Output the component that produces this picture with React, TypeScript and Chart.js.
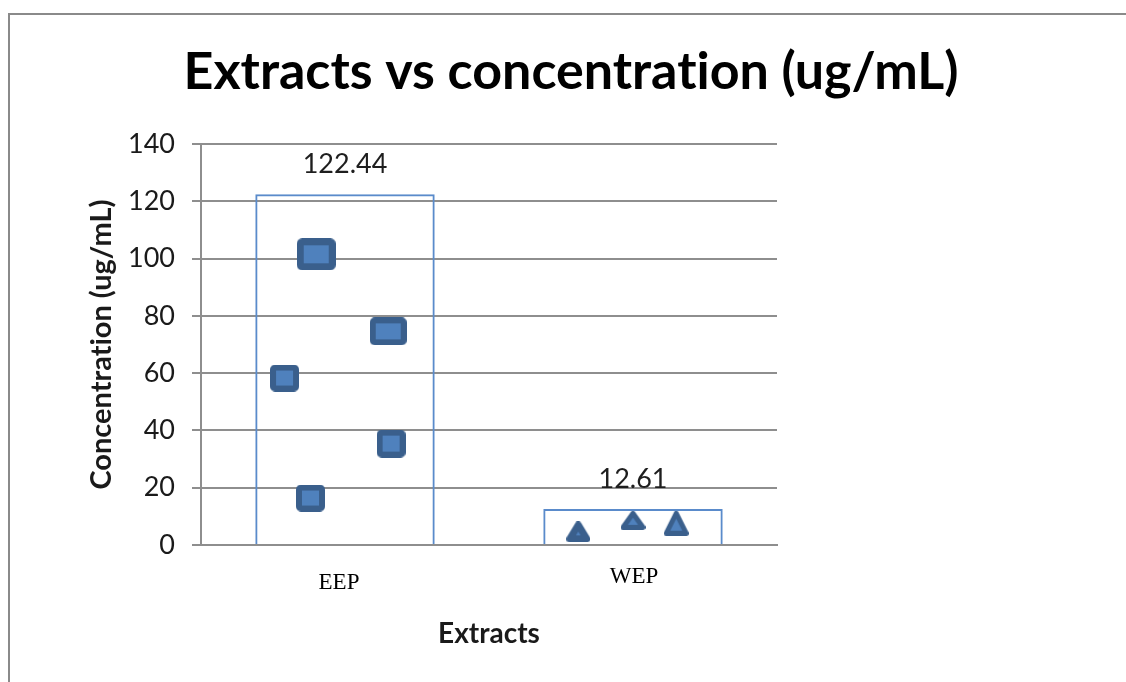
import React, { useEffect, useRef } from "react";
import { Chart, registerables } from "chart.js";

Chart.register(...registerables);

// Mean concentration per extract (bar height + value label)
const extracts = ["EEP", "WEP"];
const meanConcentration = [122.44, 12.61];

// Individual readings, spread across each category on a 0..2 linear axis
const eepPosition = [0.4, 0.65, 0.29, 0.66, 0.38];
const eepConcentration = [101.5, 74.6, 58.3, 35.4, 16.4];
const wepPosition = [1.31, 1.5, 1.65];
const wepConcentration = [4.6, 8.6, 7.6];

// Y axis range and ticks
const yMin = 0;
const yMax = 140;
const yStep = 20;

const chartTitle = "Extracts vs concentration (ug/mL)";
const xTitle = "Extracts";
const yTitle = "Concentration (ug/mL)";

// Small nudges for the category captions (dx, dy in px)
const categoryNudge: [number, number][] = [
  [-6, 3],
  [1, -3],
];

// Marker styling
const markerFill = "#4F81BD";
const markerEdge = "#3A5F8C";
const eepMarkerSize: [number, number, number][] = [
  [39, 32, 7],
  [37, 28, 6],
  [29, 27, 6],
  [29, 28, 6],
  [29, 27, 6],
];
const wepMarkerSize: [number, number, number][] = [
  [24, 21, 7],
  [25, 19, 5],
  [25, 25, 5],
];

function squareMarker(w: number, h: number, lw: number): HTMLCanvasElement {
  const c = document.createElement("canvas");
  c.width = w;
  c.height = h;
  const ctx = c.getContext("2d")!;
  ctx.beginPath();
  const x0 = lw / 2;
  const y0 = lw / 2;
  if ((ctx as any).roundRect) {
    (ctx as any).roundRect(x0, y0, w - lw, h - lw, 2);
  } else {
    ctx.rect(x0, y0, w - lw, h - lw);
  }
  ctx.fillStyle = markerFill;
  ctx.fill();
  ctx.lineJoin = "round";
  ctx.lineWidth = lw;
  ctx.strokeStyle = markerEdge;
  ctx.stroke();
  return c;
}

function triangleMarker(w: number, h: number, lw: number): HTMLCanvasElement {
  const c = document.createElement("canvas");
  c.width = w;
  c.height = h;
  const ctx = c.getContext("2d")!;
  const m = lw / 2;
  ctx.beginPath();
  ctx.moveTo(w / 2, m);
  ctx.lineTo(w - m, h - m);
  ctx.lineTo(m, h - m);
  ctx.closePath();
  ctx.fillStyle = markerFill;
  ctx.fill();
  ctx.lineJoin = "round";
  ctx.lineWidth = lw;
  ctx.strokeStyle = markerEdge;
  ctx.stroke();
  return c;
}

// Plain glyphs everywhere (no ligatures) and custom text decorations
const decorations = {
  id: "decorations",
  beforeDraw(chart: any) {
    const ctx = chart.ctx as any;
    ctx.textRendering = "optimizeSpeed";
  },
  afterDatasetsDraw(chart: any) {
    const ctx = chart.ctx as CanvasRenderingContext2D;
    ctx.save();
    (ctx as any).textRendering = "optimizeSpeed";
    const meta = chart.getDatasetMeta(0);
    ctx.fillStyle = "#1e1e1e";
    ctx.textAlign = "center";
    ctx.textBaseline = "alphabetic";
    ctx.font = "27px Lato";
    meta.data.forEach((bar: any, i: number) => {
      ctx.fillText(meanConcentration[i].toFixed(2), bar.x, bar.y - 21);
    });

    // category captions under the axis
    const xScale = chart.scales.x;
    ctx.fillStyle = "#000";
    ctx.font = '23px "Liberation Serif"';
    ctx.textBaseline = "middle";
    extracts.forEach((label, i) => {
      const [dx, dy] = categoryNudge[i];
      ctx.fillText(label, xScale.getPixelForValue(i) + dx, xScale.top + 35 + dy);
    });

    // heading
    ctx.textBaseline = "alphabetic";
    ctx.font = "bold 52px Lato";
    ctx.fillText(chartTitle, 571, 89);
    ctx.restore();
  },
};

export default function App() {
  const canvasRef = useRef<HTMLCanvasElement | null>(null);

  useEffect(() => {
    const canvas = canvasRef.current;
    if (!canvas) return;

    const eepPoints = eepPosition.map((x, i) => ({ x, y: eepConcentration[i] }));
    const wepPoints = wepPosition.map((x, i) => ({ x, y: wepConcentration[i] }));
    const eepMarkers = eepMarkerSize.map(([w, h, lw]) => squareMarker(w, h, lw));
    const wepMarkers = wepMarkerSize.map(([w, h, lw]) => triangleMarker(w, h, lw));

    const chart = new Chart(canvas, {
      type: "bar",
      data: {
        labels: extracts,
        datasets: [
          {
            type: "bar",
            data: meanConcentration,
            backgroundColor: "rgba(0,0,0,0)",
            borderColor: "#5A8BCB",
            borderWidth: 2,
            barPercentage: 0.623,
            categoryPercentage: 1,
            grouped: false,
            order: 2,
          } as any,
          {
            type: "scatter",
            xAxisID: "xs",
            data: eepPoints,
            pointStyle: eepMarkers as any,
            pointRadius: 12,
            order: 1,
          } as any,
          {
            type: "scatter",
            xAxisID: "xs",
            data: wepPoints,
            pointStyle: wepMarkers as any,
            pointRadius: 12,
            order: 1,
          } as any,
        ],
      },
      options: {
        responsive: false,
        animation: false,
        devicePixelRatio: 1,
        layout: { padding: { left: 0, top: 144, right: 349, bottom: 0 } },
        plugins: {
          legend: { display: false },
          tooltip: { enabled: false },
          title: { display: false },
        },
        scales: {
          x: {
            type: "category",
            offset: true,
            grid: { display: false },
            border: { display: true, color: "#8e8e8e", width: 2 },
            ticks: { display: false },
            title: {
              display: true,
              text: xTitle,
              font: { family: "Lato", weight: "bold", size: 28 },
              color: "#1a1a1a",
              padding: { top: 0, bottom: 31 },
            },
            afterFit: (s: any) => {
              s.height = 137;
            },
          },
          xs: {
            type: "linear",
            min: 0,
            max: 2,
            offset: false,
            display: false,
          },
          y: {
            min: yMin,
            max: yMax,
            ticks: {
              stepSize: yStep,
              font: { family: "Lato", size: 27 },
              color: "#1a1a1a",
              padding: 17,
            },
            grid: { color: "#8e8e8e", lineWidth: 2, tickLength: 9, drawTicks: true },
            border: { display: true, color: "#8e8e8e", width: 2 },
            title: {
              display: true,
              text: yTitle,
              font: { family: "Lato", weight: "bold", size: 29 },
              color: "#1a1a1a",
              padding: { top: 84, bottom: 0 },
            },
            afterFit: (s: any) => {
              s.width = 201;
            },
          },
        } as any,
      },
      plugins: [decorations],
    });

    return () => chart.destroy();
  }, []);

  return (
    <div
      style={{
        position: "fixed",
        left: 0,
        top: 0,
        width: 1126,
        height: 682,
        overflow: "hidden",
        background: "#fff",
      }}
    >
      <div
        style={{
          position: "absolute",
          left: 8,
          top: 13,
          width: 1300,
          height: 900,
          borderLeft: "2px solid #8a8a8a",
          borderTop: "2px solid #8a8a8a",
        }}
      />
      <canvas
        ref={canvasRef}
        width={1126}
        height={682}
        style={{ position: "absolute", left: 0, top: 0, width: 1126, height: 682 }}
      />
    </div>
  );
}
